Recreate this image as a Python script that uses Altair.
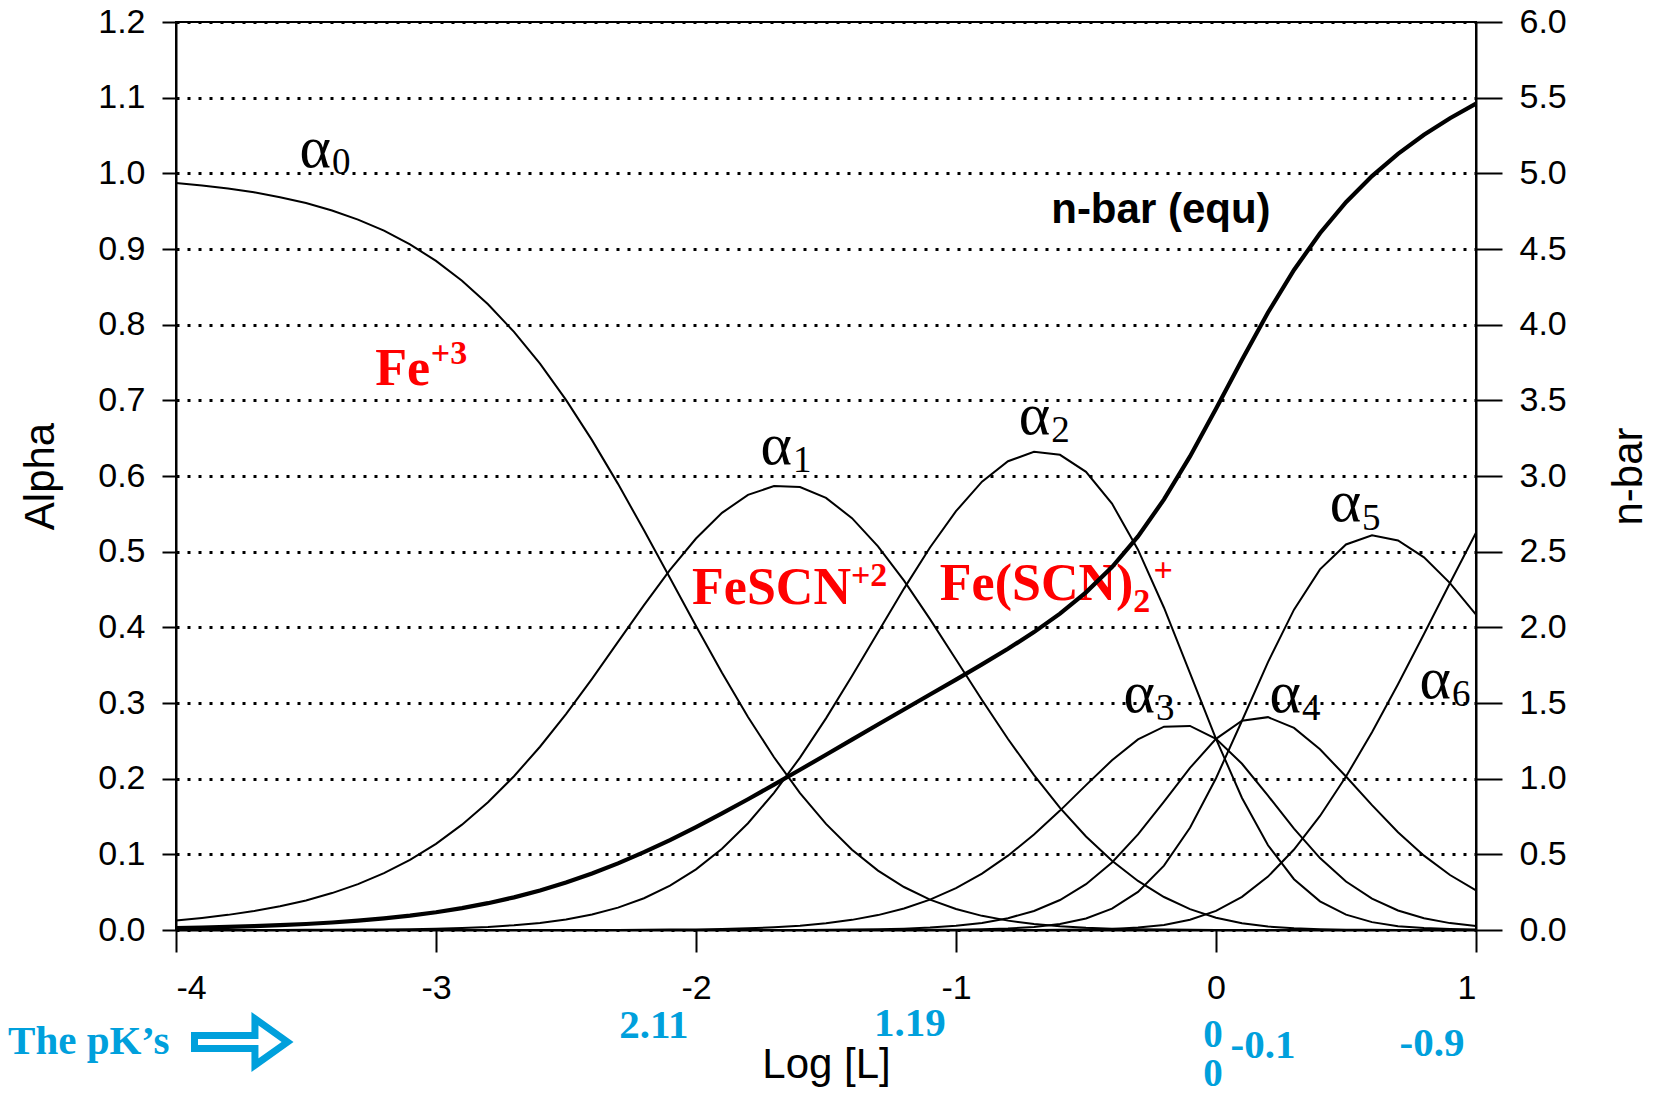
import altair as alt
import pandas as pd

# ---------------- data ----------------
log_L = [-4.0, -3.9, -3.8, -3.7, -3.6, -3.5, -3.4, -3.3, -3.2, -3.1,
         -3.0, -2.9, -2.8, -2.7, -2.6, -2.5, -2.4, -2.3, -2.2, -2.1,
         -2.0, -1.9, -1.8, -1.7, -1.6, -1.5, -1.4, -1.3, -1.2, -1.1,
         -1.0, -0.9, -0.8, -0.7, -0.6, -0.5, -0.4, -0.3, -0.2, -0.1,
         0.0, 0.1, 0.2, 0.3, 0.4, 0.5, 0.6, 0.7, 0.8, 0.9, 1.0]

alpha0 = [0.9873, 0.9840, 0.9799, 0.9749, 0.9685, 0.9607, 0.9509, 0.9389, 0.9242, 0.9061,
          0.8843, 0.8581, 0.8270, 0.7905, 0.7484, 0.7006, 0.6474, 0.5896, 0.5283, 0.4651,
          0.4017, 0.3399, 0.2816, 0.2283, 0.1809, 0.1402, 0.1061, 0.0785, 0.0568, 0.0402,
          0.0277, 0.0187, 0.0124, 0.0080, 0.0050, 0.0030, 0.0018, 0.0010, 0.0005, 0.0003,
          0.0001, 0.0001, 0.0000, 0.0000, 0.0000, 0.0000, 0.0000, 0.0000, 0.0000, 0.0000, 0.0000]

alpha1 = [0.0127, 0.0160, 0.0200, 0.0251, 0.0313, 0.0391, 0.0488, 0.0606, 0.0751, 0.0927,
          0.1139, 0.1392, 0.1689, 0.2032, 0.2422, 0.2854, 0.3320, 0.3807, 0.4294, 0.4759,
          0.5174, 0.5513, 0.5750, 0.5867, 0.5855, 0.5710, 0.5443, 0.5071, 0.4617, 0.4109,
          0.3574, 0.3039, 0.2524, 0.2046, 0.1614, 0.1236, 0.0914, 0.0648, 0.0436, 0.0276,
          0.0163, 0.0089, 0.0046, 0.0022, 0.0010, 0.0004, 0.0002, 0.0001, 0.0000, 0.0000, 0.0000]

alpha2 = [0.0000, 0.0000, 0.0000, 0.0001, 0.0001, 0.0002, 0.0003, 0.0005, 0.0007, 0.0011,
          0.0018, 0.0027, 0.0041, 0.0063, 0.0094, 0.0140, 0.0205, 0.0296, 0.0420, 0.0586,
          0.0801, 0.1075, 0.1411, 0.1813, 0.2278, 0.2797, 0.3356, 0.3936, 0.4512, 0.5055,
          0.5535, 0.5925, 0.6195, 0.6321, 0.6280, 0.6055, 0.5635, 0.5026, 0.4259, 0.3395,
          0.2526, 0.1745, 0.1120, 0.0671, 0.0379, 0.0203, 0.0104, 0.0051, 0.0025, 0.0012, 0.0005]

alpha3 = [0.0000, 0.0000, 0.0000, 0.0000, 0.0000, 0.0000, 0.0000, 0.0000, 0.0000, 0.0000,
          0.0000, 0.0000, 0.0000, 0.0000, 0.0000, 0.0000, 0.0001, 0.0001, 0.0003, 0.0005,
          0.0008, 0.0014, 0.0022, 0.0036, 0.0057, 0.0088, 0.0134, 0.0197, 0.0285, 0.0402,
          0.0554, 0.0746, 0.0982, 0.1261, 0.1578, 0.1915, 0.2243, 0.2519, 0.2687, 0.2697,
          0.2526, 0.2197, 0.1775, 0.1339, 0.0951, 0.0641, 0.0414, 0.0258, 0.0156, 0.0091, 0.0052]

alpha4 = [0.0000, 0.0000, 0.0000, 0.0000, 0.0000, 0.0000, 0.0000, 0.0000, 0.0000, 0.0000,
          0.0000, 0.0000, 0.0000, 0.0000, 0.0000, 0.0000, 0.0000, 0.0000, 0.0000, 0.0000,
          0.0000, 0.0000, 0.0000, 0.0001, 0.0001, 0.0003, 0.0005, 0.0010, 0.0018, 0.0032,
          0.0055, 0.0094, 0.0156, 0.0252, 0.0396, 0.0606, 0.0893, 0.1263, 0.1696, 0.2142,
          0.2526, 0.2765, 0.2813, 0.2671, 0.2388, 0.2028, 0.1650, 0.1293, 0.0983, 0.0727, 0.0525]

alpha5 = [0.0000, 0.0000, 0.0000, 0.0000, 0.0000, 0.0000, 0.0000, 0.0000, 0.0000, 0.0000,
          0.0000, 0.0000, 0.0000, 0.0000, 0.0000, 0.0000, 0.0000, 0.0000, 0.0000, 0.0000,
          0.0000, 0.0000, 0.0000, 0.0000, 0.0000, 0.0000, 0.0000, 0.0000, 0.0001, 0.0002,
          0.0004, 0.0009, 0.0020, 0.0040, 0.0079, 0.0152, 0.0282, 0.0503, 0.0850, 0.1352,
          0.2006, 0.2765, 0.3541, 0.4234, 0.4766, 0.5095, 0.5216, 0.5148, 0.4925, 0.4585, 0.4169]

alpha6 = [0.0000, 0.0000, 0.0000, 0.0000, 0.0000, 0.0000, 0.0000, 0.0000, 0.0000, 0.0000,
          0.0000, 0.0000, 0.0000, 0.0000, 0.0000, 0.0000, 0.0000, 0.0000, 0.0000, 0.0000,
          0.0000, 0.0000, 0.0000, 0.0000, 0.0000, 0.0000, 0.0000, 0.0000, 0.0000, 0.0000,
          0.0000, 0.0000, 0.0000, 0.0001, 0.0003, 0.0006, 0.0014, 0.0032, 0.0067, 0.0135,
          0.0253, 0.0438, 0.0706, 0.1063, 0.1507, 0.2028, 0.2614, 0.3248, 0.3912, 0.4585, 0.5249]

n_bar = [0.0128, 0.0160, 0.0201, 0.0252, 0.0316, 0.0395, 0.0494, 0.0616, 0.0766, 0.0950,
         0.1175, 0.1446, 0.1772, 0.2158, 0.2611, 0.3135, 0.3732, 0.4402, 0.5142, 0.5944,
         0.6801, 0.7704, 0.8641, 0.9605, 1.0587, 1.1581, 1.2579, 1.3577, 1.4571, 1.5560,
         1.6549, 1.7549, 1.8583, 1.9684, 2.0903, 2.2310, 2.3984, 2.6011, 2.8451, 3.1296,
         3.4440, 3.7685, 4.0802, 4.3614, 4.6042, 4.8092, 4.9817, 5.1282, 5.2543, 5.3641, 5.4603]

x_ticks = [-4, -3, -2, -1, 0, 1]
alpha_ticks = [0.0, 0.1, 0.2, 0.3, 0.4, 0.5, 0.6, 0.7, 0.8, 0.9, 1.0, 1.1, 1.2]
nbar_ticks = [0.0, 0.5, 1.0, 1.5, 2.0, 2.5, 3.0, 3.5, 4.0, 4.5, 5.0, 5.5, 6.0]

# annotation labels
alpha_label_x = [-3.404, -1.631, -0.638, -0.235, 0.327, 0.558, 0.904]
alpha_label_y = [1.009, 0.616, 0.656, 0.288, 0.288, 0.540, 0.307]
alpha_sub_y = [0.999, 0.605, 0.645, 0.277, 0.277, 0.529, 0.296]
alpha_subs = ["0", "1", "2", "3", "4", "5", "6"]

species_main = ["Fe", "FeSCN", "Fe(SCN)"]
species_main_x = [-3.023, -1.404, -0.318]
species_main_y = [0.720, 0.431, 0.436]
species_sup = ["+3", "+2", "+"]
species_sup_x = [-3.020, -1.404, -0.240]
species_sup_y = [0.748, 0.454, 0.461]
species_sub = ["2"]
species_sub_x = [-0.318]
species_sub_y = [0.420]

pk_text = ["2.11", "1.19", "-0.1", "-0.9"]
pk_x = [-2.162, -1.177, 0.181, 0.831]
pk_y = [-0.143, -0.140, -0.169, -0.167]
pk_zero_text = ["0", "0"]
pk_zero_x = [-0.012, -0.012]
pk_zero_y = [-0.154, -0.206]

arrow_x = [-3.75]
arrow_y = [-0.148]

# ---------------- chart ----------------
BLUE = "#00A0DC"
X_SCALE = alt.Scale(domain=[-4, 1], nice=False, zero=False)
Y_SCALE = alt.Scale(domain=[0, 1.2], nice=False, zero=False)
N_SCALE = alt.Scale(domain=[0, 6], nice=False, zero=False)

series = [("a0", alpha0), ("a1", alpha1), ("a2", alpha2), ("a3", alpha3),
          ("a4", alpha4), ("a5", alpha5), ("a6", alpha6)]
rows = []
for name, vals in series:
    for xv, v in zip(log_L, vals):
        rows.append({"x": xv, "y": v, "series": name})
df_alpha = pd.DataFrame(rows)
df_nbar = pd.DataFrame({"x": log_L, "nbar": n_bar})

x_axis = alt.Axis(values=x_ticks, labelExpr="'' + datum.value", grid=False,
                  tickSize=22, tickWidth=2, tickColor="black",
                  domainColor="black", domainWidth=2,
                  labelFont="Liberation Sans", labelFontSize=34, labelColor="black",
                  labelBaseline="alphabetic", labelPadding=46,
                  title="Log [L]", titleFont="Liberation Sans", titleFontSize=42,
                  titleFontWeight="normal", titleColor="black",
                  titleBaseline="alphabetic", titleY=147)

y_axis = alt.Axis(values=alpha_ticks, format=".1f", grid=True,
                  gridDash=[3, 8], gridWidth=3, gridColor="black", gridOpacity=1,
                  tickSize=14, tickWidth=2, tickColor="black",
                  domainColor="black", domainWidth=2,
                  labelFont="Liberation Sans", labelFontSize=34, labelColor="black",
                  labelPadding=17,
                  title="Alpha", titleFont="Liberation Sans", titleFontSize=42,
                  titleFontWeight="normal", titleColor="black",
                  titleAngle=270, titleX=-136, titleY=454,
                  titleAlign="center", titleBaseline="middle")

n_axis = alt.Axis(values=nbar_ticks, format=".1f", grid=False, orient="right",
                  tickSize=26, tickWidth=2, tickColor="black",
                  domainColor="black", domainWidth=2,
                  labelFont="Liberation Sans", labelFontSize=34, labelColor="black",
                  labelPadding=17,
                  title="n-bar", titleFont="Liberation Sans", titleFontSize=42,
                  titleFontWeight="normal", titleColor="black",
                  titleAngle=270, titleX=152, titleY=454,
                  titleAlign="center", titleBaseline="middle")

X_ENC = alt.X("x:Q", scale=X_SCALE, axis=x_axis, title="Log [L]")
Y_ENC = alt.Y("y:Q", scale=Y_SCALE, axis=y_axis, title="Alpha")

lines = alt.Chart(df_alpha).mark_line(color="black", strokeWidth=2).encode(
    x=X_ENC, y=Y_ENC, detail="series:N",
)


def text_layer(xs, ys, texts, **mark_kw):
    df = pd.DataFrame({"x": xs, "y": ys, "t": texts})
    return alt.Chart(df).mark_text(**mark_kw).encode(
        x=X_ENC, y=Y_ENC, text="t:N",
    )


alpha_glyphs = text_layer(alpha_label_x, alpha_label_y, ["α"] * 7,
                          font="Liberation Serif", fontSize=60, color="black",
                          align="right", baseline="alphabetic")
alpha_subs_l = text_layer([v + 0.004 for v in alpha_label_x], alpha_sub_y, alpha_subs,
                          font="Liberation Serif", fontSize=37, color="black",
                          align="left", baseline="alphabetic")
sp_main = text_layer(species_main_x, species_main_y, species_main,
                     font="Liberation Serif", fontSize=52, fontWeight="bold",
                     color="#FF0000", align="right", baseline="alphabetic")
sp_sup = text_layer(species_sup_x, species_sup_y, species_sup,
                    font="Liberation Serif", fontSize=34, fontWeight="bold",
                    color="#FF0000", align="left", baseline="alphabetic")
sp_sub = text_layer(species_sub_x, species_sub_y, species_sub,
                    font="Liberation Serif", fontSize=34, fontWeight="bold",
                    color="#FF0000", align="left", baseline="alphabetic")
nbar_label = text_layer([-0.212], [0.935], ["n-bar (equ)"],
                        font="Liberation Sans", fontSize=42, fontWeight="bold",
                        color="black", align="center", baseline="alphabetic")
pk_label = text_layer([-4.646], [-0.164], ["The pK’s"],
                      font="Liberation Serif", fontSize=41, fontWeight="bold",
                      color=BLUE, align="left", baseline="alphabetic")
pk_values = text_layer(pk_x, pk_y, pk_text,
                       font="Liberation Serif", fontSize=41, fontWeight="bold",
                       color=BLUE, align="center", baseline="alphabetic")
pk_zeros = text_layer(pk_zero_x, pk_zero_y, pk_zero_text,
                      font="Liberation Serif", fontSize=39, fontWeight="bold",
                      color=BLUE, align="center", baseline="alphabetic")

ARROW_PATH = ("M -1 -0.14 L 0.3 -0.14 L 0.3 -0.5 L 1 0 "
              "L 0.3 0.5 L 0.3 0.14 L -1 0.14 Z")
pk_arrow = alt.Chart(pd.DataFrame({"x": arrow_x, "y": arrow_y})).mark_point(
    shape=ARROW_PATH, size=8650, filled=False, stroke=BLUE, strokeWidth=7,
    opacity=1, strokeJoin="miter",
).encode(x=X_ENC, y=Y_ENC)

left_group = alt.layer(lines, alpha_glyphs, alpha_subs_l, sp_main, sp_sup, sp_sub,
                       nbar_label, pk_label, pk_arrow, pk_values, pk_zeros)

nbar_line = alt.Chart(df_nbar).mark_line(color="black", strokeWidth=4.2).encode(
    x=X_ENC,
    y=alt.Y("nbar:Q", scale=N_SCALE, axis=n_axis, title="n-bar"),
)

chart = alt.layer(left_group, nbar_line).resolve_scale(y="independent").properties(
    width=1300, height=908,
    autosize=alt.AutoSizeParams(type="none"),
    padding={"left": 176, "top": 22, "right": 177, "bottom": 165},
    background="white",
).configure_view(stroke="black", strokeWidth=2)

chart.save("out.html", embed_options={"renderer": "svg", "actions": False})
